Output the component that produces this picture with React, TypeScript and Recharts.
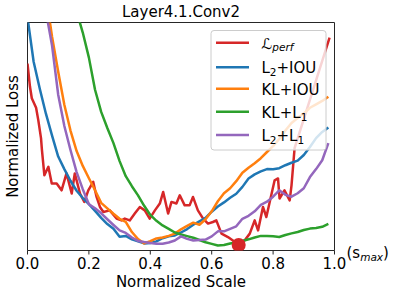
import { ComposedChart, Line, Scatter, XAxis, YAxis, ReferenceArea } from "recharts";

const FONT = '"DejaVu Sans", Verdana, sans-serif';

// shared x grid (normalized scale) for the four baseline curves
const scaleGrid = [
  0, 0.02, 0.04, 0.06, 0.08, 0.1, 0.12, 0.14, 0.16, 0.18,
  0.2, 0.22, 0.24, 0.26, 0.28, 0.3, 0.32, 0.34, 0.36, 0.38,
  0.4, 0.42, 0.44, 0.46, 0.48, 0.5, 0.52, 0.54, 0.56, 0.58,
  0.6, 0.62, 0.64, 0.66, 0.68, 0.7, 0.72, 0.74, 0.76, 0.78,
  0.8, 0.82, 0.84, 0.86, 0.88, 0.9, 0.92, 0.94, 0.96, 0.98,
];

const l2Iou = [
  1.022, 0.828, 0.709, 0.6, 0.504, 0.412, 0.357, 0.306, 0.262, 0.23,
  0.203, 0.174, 0.143, 0.116, 0.095, 0.06, 0.064, 0.049, 0.04, 0.031,
  0.033, 0.04, 0.054, 0.062, 0.066, 0.079, 0.094, 0.113, 0.128, 0.143,
  0.17, 0.193, 0.211, 0.231, 0.249, 0.279, 0.316, 0.334, 0.347, 0.357,
  0.356, 0.361, 0.374, 0.385, 0.394, 0.419, 0.454, 0.493, 0.52, 0.54,
];

const klIou = [
  1.52, 1.388, 1.256, 1.119, 0.938, 0.784, 0.639, 0.526, 0.436, 0.371,
  0.317, 0.264, 0.209, 0.185, 0.161, 0.139, 0.126, 0.081, 0.05, 0.031,
  0.041, 0.053, 0.057, 0.064, 0.074, 0.093, 0.108, 0.122, 0.113, 0.137,
  0.172, 0.216, 0.251, 0.273, 0.304, 0.341, 0.363, 0.383, 0.405, 0.432,
  0.458, 0.489, 0.526, 0.559, 0.581, 0.601, 0.626, 0.641, 0.656, 0.674,
];

const klL1 = [
  1.819, 1.722, 1.626, 1.529, 1.432, 1.335, 1.238, 1.143, 1.048, 0.956,
  0.846, 0.705, 0.608, 0.537, 0.471, 0.392, 0.326, 0.282, 0.242, 0.196,
  0.156, 0.13, 0.11, 0.095, 0.079, 0.07, 0.063, 0.056, 0.046, 0.036,
  0.029, 0.022, 0.024, 0.031, 0.035, 0.042, 0.049, 0.057, 0.064, 0.064,
  0.062, 0.059, 0.068, 0.075, 0.081, 0.09, 0.096, 0.099, 0.104, 0.117,
];

const l2L1 = [
  1.52, 1.366, 1.211, 1.048, 0.899, 0.683, 0.546, 0.441, 0.344, 0.269,
  0.203, 0.185, 0.163, 0.137, 0.112, 0.088, 0.077, 0.057, 0.042, 0.037,
  0.033, 0.03, 0.03, 0.035, 0.044, 0.062, 0.051, 0.044, 0.046, 0.048,
  0.062, 0.084, 0.084, 0.095, 0.106, 0.139, 0.152, 0.172, 0.2, 0.214,
  0.236, 0.264, 0.244, 0.236, 0.251, 0.273, 0.322, 0.357, 0.396, 0.471,
];

// L_perf is jagged, so it keeps its own x positions
const perfX = [
  0, 0.008, 0.014, 0.028, 0.035, 0.044, 0.047, 0.055, 0.068, 0.079,
  0.095, 0.111, 0.127, 0.144, 0.154, 0.171, 0.185, 0.198, 0.214, 0.225,
  0.236, 0.247, 0.268, 0.29, 0.306, 0.317, 0.333, 0.35, 0.366, 0.382,
  0.398, 0.415, 0.431, 0.442, 0.458, 0.469, 0.485, 0.496, 0.512, 0.528,
  0.539, 0.555, 0.572, 0.588, 0.604, 0.615, 0.632, 0.653, 0.669, 0.681,
  0.707, 0.724, 0.74, 0.751, 0.767, 0.778, 0.789, 0.805, 0.816, 0.821,
  0.837, 0.854, 0.86, 0.87, 0.925, 0.984,
];
const perfY = [
  0.82, 0.719, 0.668, 0.626, 0.573, 0.493, 0.441, 0.33, 0.367, 0.294,
  0.294, 0.264, 0.338, 0.25, 0.338, 0.25, 0.213, 0.264, 0.301, 0.235,
  0.191, 0.169, 0.176, 0.14, 0.132, 0.14, 0.132, 0.163, 0.191, 0.176,
  0.14, 0.176, 0.206, 0.257, 0.162, 0.213, 0.206, 0.242, 0.198, 0.198,
  0.235, 0.176, 0.14, 0.118, 0.125, 0.132, 0.074, 0.059, 0.044, 0.029,
  0.044, 0.074, 0.132, 0.088, 0.191, 0.147, 0.213, 0.308, 0.316, 0.228,
  0.264, 0.22, 0.286, 0.449, 0.683, 0.934,
];

// marked minimum of L_perf
const perfMin = [{ x: 0.688, y: 0.024 }];

const xTicks = [0, 0.2, 0.4, 0.6, 0.8, 1.0];

const colors = {
  perf: "#d62728",
  l2Iou: "#1f77b4",
  klIou: "#ff7f0e",
  klL1: "#2ca02c",
  l2L1: "#9467bd",
};

const toPoints = (xs: number[], ys: number[]) => xs.map((x, i) => ({ x, y: ys[i] }));

function XTick({ x, payload }: any) {
  return (
    <text x={x} y={268.5} textAnchor="middle" fontSize={15} fontFamily={FONT} fill="#000">
      {Number(payload.value).toFixed(1)}
    </text>
  );
}

function LegendBox() {
  const lx = 216;
  const tx = 261.5;
  const rows = [42.7, 67.3, 88.8, 111.7, 135];
  const sub = { fontSize: 10.5 };
  return (
    <g fontFamily={FONT} fontSize={15} fill="#000">
      <rect x={211} y={30.5} width={115} height={119.5} rx={3} fill="#fff" fillOpacity={0.8} stroke="#cccccc" />
      {[colors.perf, colors.l2Iou, colors.klIou, colors.klL1, colors.l2L1].map((c, i) => (
        <line key={c} x1={lx} x2={lx + 33} y1={rows[i]} y2={rows[i]} stroke={c} strokeWidth={2.5} />
      ))}
      <text x={tx} y={rows[0] + 6}>
        ℒ<tspan {...sub} fontStyle="italic" dy={2}>perf</tspan>
      </text>
      <text x={tx} y={rows[1] + 6}>
        L<tspan {...sub} dy={3}>2</tspan><tspan dy={-3}>+IOU</tspan>
      </text>
      <text x={tx} y={rows[2] + 6}>KL+IOU</text>
      <text x={tx} y={rows[3] + 6}>
        KL+L<tspan {...sub} dy={3}>1</tspan>
      </text>
      <text x={tx} y={rows[4] + 6}>
        L<tspan {...sub} dy={3}>2</tspan><tspan dy={-3}>+L</tspan><tspan {...sub} dy={3}>1</tspan>
      </text>
    </g>
  );
}

export default function App() {
  const series = [
    { key: "perf", data: toPoints(perfX, perfY), color: colors.perf },
    { key: "l2Iou", data: toPoints(scaleGrid, l2Iou), color: colors.l2Iou },
    { key: "klIou", data: toPoints(scaleGrid, klIou), color: colors.klIou },
    { key: "klL1", data: toPoints(scaleGrid, klL1), color: colors.klL1 },
    { key: "l2L1", data: toPoints(scaleGrid, l2L1), color: colors.l2L1 },
  ];

  return (
    <div style={{ position: "absolute", left: 0, top: 0, width: 398, height: 297, background: "#fff" }}>
      <ComposedChart width={398} height={297} margin={{ top: 22.5, right: 63.5, bottom: 16.5, left: 27.5 }}>
        <XAxis
          dataKey="x"
          type="number"
          domain={[0, 1]}
          ticks={xTicks}
          allowDataOverflow
          axisLine={false}
          tickLine={{ stroke: "#262626" }}
          tickSize={4}
          height={30}
          tick={<XTick />}
        />
        <YAxis type="number" domain={[0, 1]} allowDataOverflow hide />
        {series.map((s) => (
          <Line
            key={s.key}
            data={s.data}
            dataKey="y"
            type="linear"
            stroke={s.color}
            strokeWidth={2.5}
            strokeLinejoin="round"
            dot={false}
            isAnimationActive={false}
          />
        ))}
        <Scatter
          data={perfMin}
          dataKey="y"
          fill={colors.perf}
          isAnimationActive={false}
          shape={(p: any) => <circle cx={p.cx} cy={p.cy} r={7} fill={colors.perf} />}
        />
        <ReferenceArea x1={0} x2={1} y1={0} y2={1} fill="none" fillOpacity={0} stroke="#262626" strokeWidth={1} />
      </ComposedChart>
      <svg width={398} height={297} style={{ position: "absolute", left: 0, top: 0, pointerEvents: "none" }}>
        <LegendBox />
        <g fontFamily={FONT} fontSize={15} fill="#000">
          <text x={181} y={17} textAnchor="middle">Layer4.1.Conv2</text>
          <text x={181} y={286.5} textAnchor="middle">Normalized Scale</text>
          <text x={18} y={136.5} textAnchor="middle" transform="rotate(-90 18 136.5)">Normalized Loss</text>
          <text x={346.5} y={258}>
            (s<tspan fontSize={10.5} fontStyle="italic" dy={3}>max</tspan><tspan dy={-3}>)</tspan>
          </text>
        </g>
      </svg>
    </div>
  );
}
